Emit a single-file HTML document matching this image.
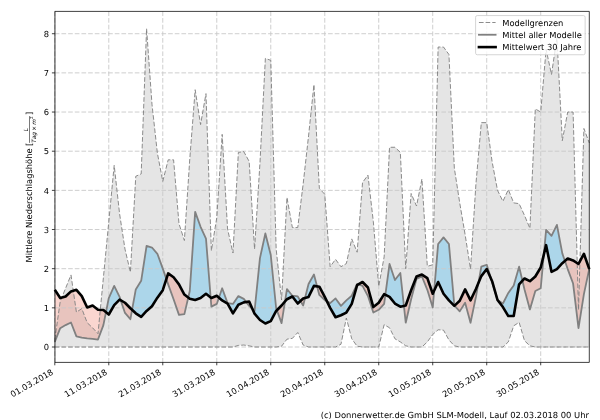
<!DOCTYPE html>
<html><head><meta charset="utf-8"><style>
html,body{margin:0;padding:0;background:#fff;}
svg{display:block;}
text{font-family:"DejaVu Sans","Liberation Sans",sans-serif;fill:#000;text-rendering:geometricPrecision;}
</style></head><body>
<svg width="600" height="420" viewBox="0 0 600 420">
<rect width="600" height="420" fill="#fff"/>
<path d="M54.80,339.56 60.20,301.57 65.60,288.26 71.00,274.95 76.40,312.15 81.79,308.62 87.19,322.72 92.59,327.81 97.99,333.69 103.39,277.69 108.79,221.69 114.19,165.30 119.59,213.86 124.99,249.10 130.39,272.20 135.78,176.26 141.18,173.91 146.58,28.63 151.98,104.21 157.38,153.16 162.78,181.35 168.18,159.82 173.58,159.82 178.98,223.65 184.38,240.48 189.77,159.03 195.17,89.72 200.57,124.57 205.97,93.63 211.37,250.67 216.77,217.77 222.17,134.36 227.57,229.13 232.97,253.02 238.37,152.37 243.76,151.59 249.16,161.38 254.56,249.10 259.96,162.95 265.36,58.39 270.76,60.35 276.16,249.10 281.56,300.01 286.96,197.41 292.36,227.56 297.75,227.56 303.15,184.09 308.55,135.93 313.95,84.63 319.35,188.40 324.75,194.28 330.15,266.72 335.55,259.28 340.95,266.72 346.35,263.59 351.74,238.92 357.14,252.23 362.54,182.53 367.94,175.09 373.34,221.69 378.74,286.30 384.14,256.93 389.54,147.28 394.94,147.28 400.34,152.37 405.73,268.68 411.13,193.49 416.53,206.02 421.93,179.00 427.33,266.33 432.73,264.76 438.13,47.03 443.53,47.03 448.93,54.47 454.33,168.04 459.72,202.89 465.12,234.61 470.52,269.07 475.92,184.09 481.32,122.61 486.72,122.61 492.12,161.77 497.52,190.36 502.92,201.32 508.32,189.58 513.71,202.89 519.11,203.67 524.51,215.42 529.91,228.35 535.31,108.91 540.71,112.04 546.11,49.38 551.51,74.45 556.91,37.64 562.31,140.63 567.70,112.04 573.10,112.04 578.50,309.80 583.90,128.49 589.30,142.98 L589.30,347.00 583.90,347.00 578.50,347.00 573.10,347.00 567.70,347.00 562.31,347.00 556.91,347.00 551.51,347.00 546.11,347.00 540.71,347.00 535.31,347.00 529.91,345.83 524.51,340.73 519.11,322.33 513.71,325.85 508.32,341.91 502.92,347.00 497.52,347.00 492.12,347.00 486.72,347.00 481.32,347.00 475.92,347.00 470.52,347.00 465.12,347.00 459.72,347.00 454.33,345.83 448.93,339.95 443.53,330.16 438.13,329.77 432.73,334.47 427.33,341.91 421.93,347.00 416.53,347.00 411.13,347.00 405.73,345.83 400.34,341.91 394.94,338.78 389.54,327.81 384.14,324.68 378.74,347.00 373.34,347.00 367.94,347.00 362.54,347.00 357.14,346.22 351.74,338.78 346.35,318.02 340.95,344.26 335.55,347.00 330.15,347.00 324.75,347.00 319.35,347.00 313.95,347.00 308.55,347.00 303.15,345.04 297.75,332.51 292.36,338.38 286.96,339.17 281.56,346.22 276.16,347.00 270.76,347.00 265.36,347.00 259.96,347.00 254.56,347.00 249.16,345.83 243.76,345.04 238.37,345.43 232.97,347.00 227.57,347.00 222.17,347.00 216.77,347.00 211.37,347.00 205.97,347.00 200.57,347.00 195.17,347.00 189.77,347.00 184.38,347.00 178.98,347.00 173.58,347.00 168.18,347.00 162.78,347.00 157.38,347.00 151.98,347.00 146.58,347.00 141.18,347.00 135.78,347.00 130.39,347.00 124.99,347.00 119.59,347.00 114.19,347.00 108.79,347.00 103.39,347.00 97.99,347.00 92.59,347.00 87.19,347.00 81.79,347.00 76.40,347.00 71.00,347.00 65.60,347.00 60.20,347.00 54.80,347.00 Z" fill="#e5e5e5" stroke="none"/>
<path d="M54.80,289.83 60.20,298.05 65.60,296.48 71.00,291.39 76.40,289.83 81.79,296.09 87.19,307.45 92.59,305.49 97.99,309.80 103.39,309.99 105.97,312.15 108.79,298.05 114.19,285.91 119.59,296.88 120.73,300.28 124.99,302.75 130.39,308.23 132.08,309.83 135.78,289.43 141.18,280.82 146.58,245.97 151.98,247.53 157.38,253.80 162.78,268.68 166.36,279.06 168.18,273.38 173.58,277.30 178.98,284.34 184.38,294.53 188.23,297.60 189.77,291.00 195.17,211.90 200.57,226.78 205.97,238.53 210.64,297.47 211.37,298.05 216.77,295.70 218.95,297.60 222.17,288.26 227.57,303.14 232.97,303.92 238.37,296.09 243.76,298.83 246.19,302.01 249.16,301.57 252.46,308.99 254.56,310.97 259.96,258.11 265.36,233.44 270.76,254.97 276.16,308.23 276.89,310.23 281.56,305.49 284.98,301.52 286.96,289.04 292.36,295.70 297.75,296.48 300.45,300.99 303.15,298.44 305.06,297.89 308.55,283.95 313.95,274.55 317.08,286.36 319.35,286.69 324.75,296.88 326.91,301.26 330.15,303.14 335.55,298.44 340.95,305.88 346.35,300.40 351.74,295.70 357.14,283.95 358.39,284.40 362.54,281.99 367.94,287.48 373.34,307.06 378.74,302.75 384.14,294.13 385.38,294.76 389.54,263.98 394.94,280.04 400.34,272.99 403.91,305.89 405.73,305.49 411.13,290.22 416.53,276.51 421.93,274.55 427.33,278.08 432.73,293.74 434.16,290.63 438.13,244.01 443.53,237.35 448.93,244.01 454.33,305.49 454.52,305.70 459.72,300.79 465.12,289.43 470.52,300.40 475.92,289.04 478.38,283.17 481.32,266.72 486.72,264.76 491.29,279.34 492.12,281.21 497.52,300.01 502.92,303.53 508.32,292.96 513.71,285.52 519.11,266.72 522.44,280.72 524.51,278.47 529.91,281.21 535.31,276.51 540.71,267.51 543.82,254.65 546.11,229.91 551.51,235.79 556.91,224.82 562.31,253.41 564.90,260.94 567.70,258.50 573.10,260.46 578.50,263.98 583.90,253.80 589.25,268.92 589.30,268.68 L589.30,269.07 589.25,268.92 583.90,253.80 578.50,263.98 573.10,260.46 567.70,258.50 564.90,260.94 562.31,263.20 556.91,269.07 551.51,271.81 546.11,245.18 543.82,254.65 540.71,267.51 535.31,276.51 529.91,281.21 524.51,278.47 522.44,280.72 519.11,284.34 513.71,316.06 508.32,316.06 502.92,307.06 497.52,300.01 492.12,281.21 491.29,279.34 486.72,269.07 481.32,276.12 478.38,283.17 475.92,289.04 470.52,300.40 465.12,289.43 459.72,300.79 454.52,305.70 454.33,305.88 448.93,300.40 443.53,293.74 438.13,281.99 434.16,290.63 432.73,293.74 427.33,278.08 421.93,274.55 416.53,276.51 411.13,290.22 405.73,305.49 403.91,305.89 400.34,306.67 394.94,303.53 389.54,296.88 385.38,294.76 384.14,294.13 378.74,302.75 373.34,307.06 367.94,287.48 362.54,281.99 358.39,284.40 357.14,285.13 351.74,303.92 346.35,312.54 340.95,315.28 335.55,317.24 330.15,307.84 326.91,301.26 324.75,296.88 319.35,286.69 317.08,286.36 313.95,285.91 308.55,296.88 305.06,297.89 303.15,298.44 300.45,300.99 297.75,303.53 292.36,296.48 286.96,299.22 284.98,301.52 281.56,305.49 276.89,310.23 276.16,310.97 270.76,321.15 265.36,323.50 259.96,319.98 254.56,313.71 252.46,308.99 249.16,301.57 246.19,302.01 243.76,302.36 238.37,304.71 232.97,313.32 227.57,303.53 222.17,300.40 218.95,297.60 216.77,295.70 211.37,298.05 210.64,297.47 205.97,293.74 200.57,298.05 195.17,300.01 189.77,298.83 188.23,297.60 184.38,294.53 178.98,284.34 173.58,277.30 168.18,273.38 166.36,279.06 162.78,290.22 157.38,297.66 151.98,306.27 146.58,310.97 141.18,316.85 135.78,313.32 132.08,309.83 130.39,308.23 124.99,302.75 120.73,300.28 119.59,299.62 114.19,305.10 108.79,314.50 105.97,312.15 103.39,309.99 97.99,309.80 92.59,305.49 87.19,307.45 81.79,296.09 76.40,289.83 71.00,291.39 65.60,296.48 60.20,298.05 54.80,289.83 Z" fill="#acd6ea" stroke="none"/>
<path d="M54.80,289.83 60.20,298.05 65.60,296.48 71.00,291.39 76.40,289.83 81.79,296.09 87.19,307.45 92.59,305.49 97.99,309.80 103.39,309.99 105.97,312.15 108.79,314.50 114.19,305.10 119.59,299.62 120.73,300.28 124.99,302.75 130.39,308.23 132.08,309.83 135.78,313.32 141.18,316.85 146.58,310.97 151.98,306.27 157.38,297.66 162.78,290.22 166.36,279.06 168.18,273.38 173.58,277.30 178.98,284.34 184.38,294.53 188.23,297.60 189.77,298.83 195.17,300.01 200.57,298.05 205.97,293.74 210.64,297.47 211.37,298.05 216.77,295.70 218.95,297.60 222.17,300.40 227.57,303.53 232.97,313.32 238.37,304.71 243.76,302.36 246.19,302.01 249.16,301.57 252.46,308.99 254.56,313.71 259.96,319.98 265.36,323.50 270.76,321.15 276.16,310.97 276.89,310.23 281.56,305.49 284.98,301.52 286.96,299.22 292.36,296.48 297.75,303.53 300.45,300.99 303.15,298.44 305.06,297.89 308.55,296.88 313.95,285.91 317.08,286.36 319.35,286.69 324.75,296.88 326.91,301.26 330.15,307.84 335.55,317.24 340.95,315.28 346.35,312.54 351.74,303.92 357.14,285.13 358.39,284.40 362.54,281.99 367.94,287.48 373.34,307.06 378.74,302.75 384.14,294.13 385.38,294.76 389.54,296.88 394.94,303.53 400.34,306.67 403.91,305.89 405.73,305.49 411.13,290.22 416.53,276.51 421.93,274.55 427.33,278.08 432.73,293.74 434.16,290.63 438.13,281.99 443.53,293.74 448.93,300.40 454.33,305.88 454.52,305.70 459.72,300.79 465.12,289.43 470.52,300.40 475.92,289.04 478.38,283.17 481.32,276.12 486.72,269.07 491.29,279.34 492.12,281.21 497.52,300.01 502.92,307.06 508.32,316.06 513.71,316.06 519.11,284.34 522.44,280.72 524.51,278.47 529.91,281.21 535.31,276.51 540.71,267.51 543.82,254.65 546.11,245.18 551.51,271.81 556.91,269.07 562.31,263.20 564.90,260.94 567.70,258.50 573.10,260.46 578.50,263.98 583.90,253.80 589.25,268.92 589.30,269.07 L589.30,269.07 589.25,268.92 583.90,294.13 578.50,328.20 573.10,283.56 567.70,269.07 564.90,260.94 562.31,263.20 556.91,269.07 551.51,271.81 546.11,245.18 543.82,254.65 540.71,288.26 535.31,291.00 529.91,309.41 524.51,289.43 522.44,280.72 519.11,284.34 513.71,316.06 508.32,316.06 502.92,307.06 497.52,300.01 492.12,281.99 491.29,279.34 486.72,269.07 481.32,276.12 478.38,283.17 475.92,296.88 470.52,322.72 465.12,302.75 459.72,311.36 454.52,305.70 454.33,305.88 448.93,300.40 443.53,293.74 438.13,281.99 434.16,290.63 432.73,307.45 427.33,289.83 421.93,276.51 416.53,278.86 411.13,299.22 405.73,322.72 403.91,305.89 400.34,306.67 394.94,303.53 389.54,296.88 385.38,294.76 384.14,303.92 378.74,309.80 373.34,312.54 367.94,296.09 362.54,285.91 358.39,284.40 357.14,285.13 351.74,303.92 346.35,312.54 340.95,315.28 335.55,317.24 330.15,307.84 326.91,301.26 324.75,300.01 319.35,294.92 317.08,286.36 313.95,285.91 308.55,296.88 305.06,297.89 303.15,305.49 300.45,300.99 297.75,303.53 292.36,296.48 286.96,299.22 284.98,301.52 281.56,323.11 276.89,310.23 276.16,310.97 270.76,321.15 265.36,323.50 259.96,319.98 254.56,313.71 252.46,308.99 249.16,305.88 246.19,302.01 243.76,302.36 238.37,304.71 232.97,313.32 227.57,303.53 222.17,300.40 218.95,297.60 216.77,303.92 211.37,306.67 210.64,297.47 205.97,293.74 200.57,298.05 195.17,300.01 189.77,298.83 188.23,297.60 184.38,314.11 178.98,314.89 173.58,299.22 168.18,284.34 166.36,279.06 162.78,290.22 157.38,297.66 151.98,306.27 146.58,310.97 141.18,316.85 135.78,313.32 132.08,309.83 130.39,319.20 124.99,312.93 120.73,300.28 119.59,299.62 114.19,305.10 108.79,314.50 105.97,312.15 103.39,325.07 97.99,339.56 92.59,338.78 87.19,338.38 81.79,337.60 76.40,336.43 71.00,322.52 65.60,325.07 60.20,328.20 54.80,341.91 Z" fill="rgba(240,128,110,0.32)" stroke="none"/>
<g stroke="#c8c8c8" stroke-width="0.9" stroke-dasharray="4.65 2.015" fill="none"><line x1="54.80" y1="347.00" x2="589.30" y2="347.00"/><line x1="54.80" y1="307.84" x2="589.30" y2="307.84"/><line x1="54.80" y1="268.68" x2="589.30" y2="268.68"/><line x1="54.80" y1="229.52" x2="589.30" y2="229.52"/><line x1="54.80" y1="190.36" x2="589.30" y2="190.36"/><line x1="54.80" y1="151.20" x2="589.30" y2="151.20"/><line x1="54.80" y1="112.04" x2="589.30" y2="112.04"/><line x1="54.80" y1="72.88" x2="589.30" y2="72.88"/><line x1="54.80" y1="33.72" x2="589.30" y2="33.72"/><line x1="54.80" y1="11.40" x2="54.80" y2="362.40"/><line x1="108.79" y1="11.40" x2="108.79" y2="362.40"/><line x1="162.78" y1="11.40" x2="162.78" y2="362.40"/><line x1="216.77" y1="11.40" x2="216.77" y2="362.40"/><line x1="270.76" y1="11.40" x2="270.76" y2="362.40"/><line x1="324.75" y1="11.40" x2="324.75" y2="362.40"/><line x1="378.74" y1="11.40" x2="378.74" y2="362.40"/><line x1="432.73" y1="11.40" x2="432.73" y2="362.40"/><line x1="486.72" y1="11.40" x2="486.72" y2="362.40"/><line x1="540.71" y1="11.40" x2="540.71" y2="362.40"/></g>
<polyline points="54.80,339.56 60.20,301.57 65.60,288.26 71.00,274.95 76.40,312.15 81.79,308.62 87.19,322.72 92.59,327.81 97.99,333.69 103.39,277.69 108.79,221.69 114.19,165.30 119.59,213.86 124.99,249.10 130.39,272.20 135.78,176.26 141.18,173.91 146.58,28.63 151.98,104.21 157.38,153.16 162.78,181.35 168.18,159.82 173.58,159.82 178.98,223.65 184.38,240.48 189.77,159.03 195.17,89.72 200.57,124.57 205.97,93.63 211.37,250.67 216.77,217.77 222.17,134.36 227.57,229.13 232.97,253.02 238.37,152.37 243.76,151.59 249.16,161.38 254.56,249.10 259.96,162.95 265.36,58.39 270.76,60.35 276.16,249.10 281.56,300.01 286.96,197.41 292.36,227.56 297.75,227.56 303.15,184.09 308.55,135.93 313.95,84.63 319.35,188.40 324.75,194.28 330.15,266.72 335.55,259.28 340.95,266.72 346.35,263.59 351.74,238.92 357.14,252.23 362.54,182.53 367.94,175.09 373.34,221.69 378.74,286.30 384.14,256.93 389.54,147.28 394.94,147.28 400.34,152.37 405.73,268.68 411.13,193.49 416.53,206.02 421.93,179.00 427.33,266.33 432.73,264.76 438.13,47.03 443.53,47.03 448.93,54.47 454.33,168.04 459.72,202.89 465.12,234.61 470.52,269.07 475.92,184.09 481.32,122.61 486.72,122.61 492.12,161.77 497.52,190.36 502.92,201.32 508.32,189.58 513.71,202.89 519.11,203.67 524.51,215.42 529.91,228.35 535.31,108.91 540.71,112.04 546.11,49.38 551.51,74.45 556.91,37.64 562.31,140.63 567.70,112.04 573.10,112.04 578.50,309.80 583.90,128.49 589.30,142.98" fill="none" stroke="#7f7f7f" stroke-width="0.9" stroke-dasharray="4.65 2.015"/>
<polyline points="54.80,347.00 60.20,347.00 65.60,347.00 71.00,347.00 76.40,347.00 81.79,347.00 87.19,347.00 92.59,347.00 97.99,347.00 103.39,347.00 108.79,347.00 114.19,347.00 119.59,347.00 124.99,347.00 130.39,347.00 135.78,347.00 141.18,347.00 146.58,347.00 151.98,347.00 157.38,347.00 162.78,347.00 168.18,347.00 173.58,347.00 178.98,347.00 184.38,347.00 189.77,347.00 195.17,347.00 200.57,347.00 205.97,347.00 211.37,347.00 216.77,347.00 222.17,347.00 227.57,347.00 232.97,347.00 238.37,345.43 243.76,345.04 249.16,345.83 254.56,347.00 259.96,347.00 265.36,347.00 270.76,347.00 276.16,347.00 281.56,346.22 286.96,339.17 292.36,338.38 297.75,332.51 303.15,345.04 308.55,347.00 313.95,347.00 319.35,347.00 324.75,347.00 330.15,347.00 335.55,347.00 340.95,344.26 346.35,318.02 351.74,338.78 357.14,346.22 362.54,347.00 367.94,347.00 373.34,347.00 378.74,347.00 384.14,324.68 389.54,327.81 394.94,338.78 400.34,341.91 405.73,345.83 411.13,347.00 416.53,347.00 421.93,347.00 427.33,341.91 432.73,334.47 438.13,329.77 443.53,330.16 448.93,339.95 454.33,345.83 459.72,347.00 465.12,347.00 470.52,347.00 475.92,347.00 481.32,347.00 486.72,347.00 492.12,347.00 497.52,347.00 502.92,347.00 508.32,341.91 513.71,325.85 519.11,322.33 524.51,340.73 529.91,345.83 535.31,347.00 540.71,347.00 546.11,347.00 551.51,347.00 556.91,347.00 562.31,347.00 567.70,347.00 573.10,347.00 578.50,347.00 583.90,347.00 589.30,347.00" fill="none" stroke="#7f7f7f" stroke-width="0.9" stroke-dasharray="4.65 2.015"/>
<polyline points="54.80,341.91 60.20,328.20 65.60,325.07 71.00,322.52 76.40,336.43 81.79,337.60 87.19,338.38 92.59,338.78 97.99,339.56 103.39,325.07 108.79,298.05 114.19,285.91 119.59,296.88 124.99,312.93 130.39,319.20 135.78,289.43 141.18,280.82 146.58,245.97 151.98,247.53 157.38,253.80 162.78,268.68 168.18,284.34 173.58,299.22 178.98,314.89 184.38,314.11 189.77,291.00 195.17,211.90 200.57,226.78 205.97,238.53 211.37,306.67 216.77,303.92 222.17,288.26 227.57,303.14 232.97,303.92 238.37,296.09 243.76,298.83 249.16,305.88 254.56,310.97 259.96,258.11 265.36,233.44 270.76,254.97 276.16,308.23 281.56,323.11 286.96,289.04 292.36,295.70 297.75,296.48 303.15,305.49 308.55,283.95 313.95,274.55 319.35,294.92 324.75,300.01 330.15,303.14 335.55,298.44 340.95,305.88 346.35,300.40 351.74,295.70 357.14,283.95 362.54,285.91 367.94,296.09 373.34,312.54 378.74,309.80 384.14,303.92 389.54,263.98 394.94,280.04 400.34,272.99 405.73,322.72 411.13,299.22 416.53,278.86 421.93,276.51 427.33,289.83 432.73,307.45 438.13,244.01 443.53,237.35 448.93,244.01 454.33,305.49 459.72,311.36 465.12,302.75 470.52,322.72 475.92,296.88 481.32,266.72 486.72,264.76 492.12,281.99 497.52,300.01 502.92,303.53 508.32,292.96 513.71,285.52 519.11,266.72 524.51,289.43 529.91,309.41 535.31,291.00 540.71,288.26 546.11,229.91 551.51,235.79 556.91,224.82 562.31,253.41 567.70,269.07 573.10,283.56 578.50,328.20 583.90,294.13 589.30,268.68" fill="none" stroke="#808080" stroke-width="1.8" stroke-linejoin="round"/>
<polyline points="54.80,289.83 60.20,298.05 65.60,296.48 71.00,291.39 76.40,289.83 81.79,296.09 87.19,307.45 92.59,305.49 97.99,309.80 103.39,309.99 108.79,314.50 114.19,305.10 119.59,299.62 124.99,302.75 130.39,308.23 135.78,313.32 141.18,316.85 146.58,310.97 151.98,306.27 157.38,297.66 162.78,290.22 168.18,273.38 173.58,277.30 178.98,284.34 184.38,294.53 189.77,298.83 195.17,300.01 200.57,298.05 205.97,293.74 211.37,298.05 216.77,295.70 222.17,300.40 227.57,303.53 232.97,313.32 238.37,304.71 243.76,302.36 249.16,301.57 254.56,313.71 259.96,319.98 265.36,323.50 270.76,321.15 276.16,310.97 281.56,305.49 286.96,299.22 292.36,296.48 297.75,303.53 303.15,298.44 308.55,296.88 313.95,285.91 319.35,286.69 324.75,296.88 330.15,307.84 335.55,317.24 340.95,315.28 346.35,312.54 351.74,303.92 357.14,285.13 362.54,281.99 367.94,287.48 373.34,307.06 378.74,302.75 384.14,294.13 389.54,296.88 394.94,303.53 400.34,306.67 405.73,305.49 411.13,290.22 416.53,276.51 421.93,274.55 427.33,278.08 432.73,293.74 438.13,281.99 443.53,293.74 448.93,300.40 454.33,305.88 459.72,300.79 465.12,289.43 470.52,300.40 475.92,289.04 481.32,276.12 486.72,269.07 492.12,281.21 497.52,300.01 502.92,307.06 508.32,316.06 513.71,316.06 519.11,284.34 524.51,278.47 529.91,281.21 535.31,276.51 540.71,267.51 546.11,245.18 551.51,271.81 556.91,269.07 562.31,263.20 567.70,258.50 573.10,260.46 578.50,263.98 583.90,253.80 589.30,269.07" fill="none" stroke="#000" stroke-width="2.6" stroke-linejoin="round"/>
<g stroke="#000" fill="none">
<line x1="54.95" y1="11.40" x2="54.95" y2="362.40" stroke-width="0.8"/>
<line x1="589.30" y1="11.40" x2="589.30" y2="362.40" stroke-width="0.75"/>
<line x1="54.80" y1="11.40" x2="589.30" y2="11.40" stroke-width="0.75"/>
<line x1="54.80" y1="362.40" x2="589.30" y2="362.40" stroke-width="0.75"/>
</g>
<g stroke="#000" stroke-width="0.75"><line x1="51.90" y1="347.00" x2="54.80" y2="347.00"/><line x1="51.90" y1="307.84" x2="54.80" y2="307.84"/><line x1="51.90" y1="268.68" x2="54.80" y2="268.68"/><line x1="51.90" y1="229.52" x2="54.80" y2="229.52"/><line x1="51.90" y1="190.36" x2="54.80" y2="190.36"/><line x1="51.90" y1="151.20" x2="54.80" y2="151.20"/><line x1="51.90" y1="112.04" x2="54.80" y2="112.04"/><line x1="51.90" y1="72.88" x2="54.80" y2="72.88"/><line x1="51.90" y1="33.72" x2="54.80" y2="33.72"/><line x1="54.80" y1="362.40" x2="54.80" y2="365.30"/><line x1="108.79" y1="362.40" x2="108.79" y2="365.30"/><line x1="162.78" y1="362.40" x2="162.78" y2="365.30"/><line x1="216.77" y1="362.40" x2="216.77" y2="365.30"/><line x1="270.76" y1="362.40" x2="270.76" y2="365.30"/><line x1="324.75" y1="362.40" x2="324.75" y2="365.30"/><line x1="378.74" y1="362.40" x2="378.74" y2="365.30"/><line x1="432.73" y1="362.40" x2="432.73" y2="365.30"/><line x1="486.72" y1="362.40" x2="486.72" y2="365.30"/><line x1="540.71" y1="362.40" x2="540.71" y2="365.30"/></g>
<g font-size="8.333px" text-anchor="end"><text x="48.97" y="350.17">0</text><text x="48.97" y="311.01">1</text><text x="48.97" y="271.85">2</text><text x="48.97" y="232.69">3</text><text x="48.97" y="193.53">4</text><text x="48.97" y="154.37">5</text><text x="48.97" y="115.21">6</text><text x="48.97" y="76.05">7</text><text x="48.97" y="36.89">8</text></g>
<g font-size="8.333px"><text transform="translate(12.61,397.57) rotate(-30)">01.03.2018</text><text transform="translate(66.60,397.57) rotate(-30)">11.03.2018</text><text transform="translate(120.59,397.57) rotate(-30)">21.03.2018</text><text transform="translate(174.58,397.57) rotate(-30)">31.03.2018</text><text transform="translate(228.57,397.57) rotate(-30)">10.04.2018</text><text transform="translate(282.56,397.57) rotate(-30)">20.04.2018</text><text transform="translate(336.55,397.57) rotate(-30)">30.04.2018</text><text transform="translate(390.54,397.57) rotate(-30)">10.05.2018</text><text transform="translate(444.53,397.57) rotate(-30)">20.05.2018</text><text transform="translate(498.52,397.57) rotate(-30)">30.05.2018</text></g>
<g transform="translate(32.83,262.483) rotate(-90) scale(0.833333)" font-size="10px">
<text x="0" y="-0.509">Mittlere Niederschlagshöhe</text>
<text x="139.678" y="-0.509">[</text>
<text x="176.884" y="-0.509">]</text>
<text y="3.35" font-size="7px" font-style="oblique"><tspan x="143.580">T</tspan><tspan x="147.856">a</tspan><tspan x="152.145">g</tspan><tspan x="165.181">m</tspan></text>
<text x="157.952" y="3.35" font-size="7px">×</text>
<text x="172.325" y="0.67" font-size="4.9px">2</text>
<text x="157.580" y="-6.09" font-size="7px" font-style="oblique">L</text>
<rect x="143.580" y="-4.59" width="32.054" height="0.625" fill="#000"/>
</g>
<g>
<path d="M 477.266 54.762 L 583.467 54.762 Q 585.133 54.762 585.133 53.095 L 585.133 17.233 Q 585.133 15.567 583.467 15.567 L 477.266 15.567 Q 475.600 15.567 475.600 17.233 L 475.600 53.095 Q 475.600 54.762 477.266 54.762 Z" fill="#fff" fill-opacity="0.8" stroke="#cccccc" stroke-width="0.833"/>
<line x1="478.933" y1="22.5" x2="495.600" y2="22.5" stroke="#7f7f7f" stroke-width="0.9" stroke-dasharray="4.65 2.015"/>
<line x1="478.933" y1="34.75" x2="495.600" y2="34.75" stroke="#808080" stroke-width="1.8" stroke-linecap="square"/>
<line x1="478.933" y1="47.1" x2="495.600" y2="47.1" stroke="#000" stroke-width="2.6" stroke-linecap="square"/>
<g font-size="8.333px">
<text x="502.266" y="25.7">Modellgrenzen</text>
<text x="502.266" y="37.95">Mittel aller Modelle</text>
<text x="502.266" y="50.2">Mittelwert 30 Jahre</text>
</g>
</g>
<text x="589.0" y="417.6" font-size="8.39px" text-anchor="end">(c) Donnerwetter.de GmbH SLM-Modell, Lauf 02.03.2018 00 Uhr</text>
</svg>
</body></html>
